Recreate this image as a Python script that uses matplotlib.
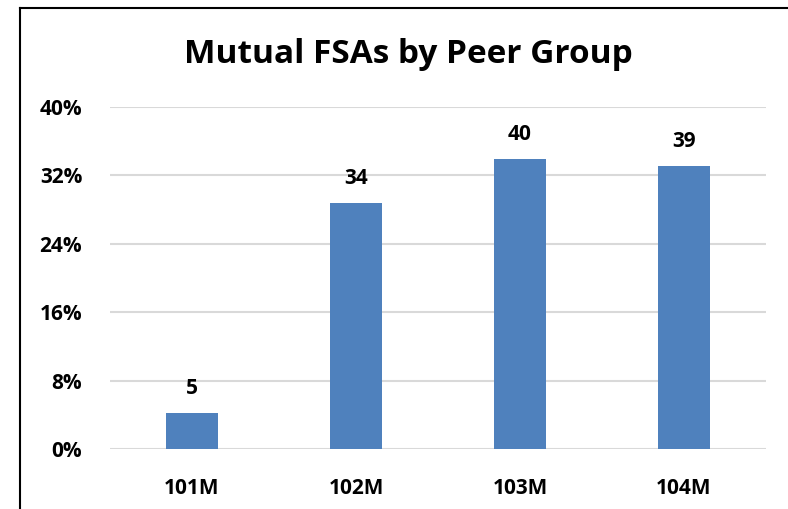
import numpy as np
import matplotlib
matplotlib.use("Agg")
import matplotlib.pyplot as plt
from matplotlib.lines import Line2D

# data
groups = ["101M", "102M", "103M", "104M"]
pct = [4.2, 28.8, 33.9, 33.1]
counts = [5, 34, 40, 39]
yticks = [0, 8, 16, 24, 32, 40]

plt.rcParams['font.family'] = ['Open Sans', 'DejaVu Sans']

fig = plt.figure(figsize=(7.88, 5.09), dpi=100)
ax = fig.add_axes([0.1396, 0.1179, 0.8325, 0.6719])

x = np.arange(len(groups))
bars = ax.bar(x, pct, width=0.32, color="#4F81BD", zorder=3)
for xi, p, c in zip(x, pct, counts):
    ax.annotate(str(c), (xi, p), xytext=(0, 10), textcoords="offset points",
                ha="center", va="bottom", fontsize=15, fontweight="bold")

ax.set_xlim(-0.5, len(groups) - 0.5)
ax.set_ylim(0, 40)
ax.set_yticks(yticks)
ax.set_yticklabels([f"{t}%" for t in yticks], fontsize=15, fontweight="bold")
ax.set_xticks(x)
ax.set_xticklabels(groups, fontsize=15, fontweight="bold")
ax.yaxis.grid(True, color="#D9D9D9", linewidth=1.5, zorder=0)
ax.tick_params(axis="y", length=0, pad=20)
ax.tick_params(axis="x", length=0, pad=21)
for s in ax.spines.values():
    s.set_visible(False)

fig.text(0.518, 0.892, "Mutual FSAs by Peer Group", ha="center", va="center",
         fontsize=24, fontweight="bold")

# outer frame (left and top edges visible)
fig.add_artist(Line2D([20/788, 20/788], [0, 1 - 8/509], color="black", lw=1.5,
                      transform=fig.transFigure))
fig.add_artist(Line2D([20/788, 1], [1 - 8/509, 1 - 8/509], color="black", lw=1.5,
                      transform=fig.transFigure))

fig.savefig("out.png", dpi=100)
